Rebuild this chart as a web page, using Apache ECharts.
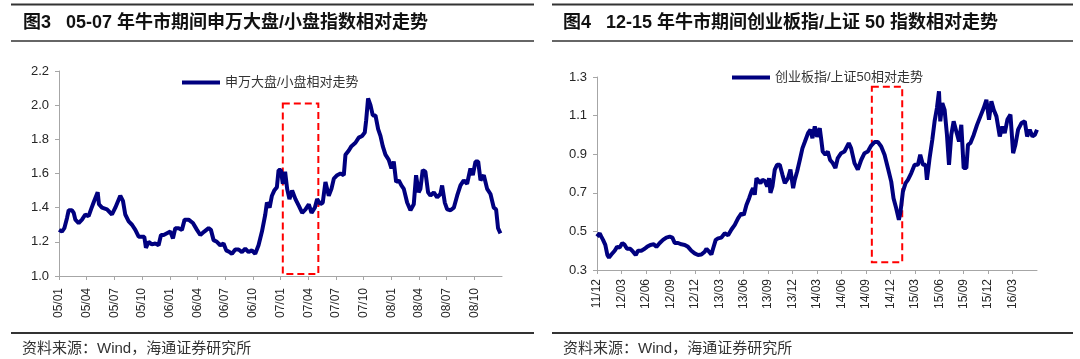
<!DOCTYPE html>
<html>
<head>
<meta charset="utf-8">
<script src="https://cdn.jsdelivr.net/npm/echarts@6/dist/echarts.min.js"></script>
<style>
html,body{margin:0;padding:0;background:#fff;}
#chart{width:1080px;height:359px;}
</style>
</head>
<body>
<div id="chart"></div>
<script>
// ---------- DATA ----------
// Left chart: months since 2005-01, Shenwan large-cap / small-cap relative index
const leftTickLabels = ['05/01','05/04','05/07','05/10','06/01','06/04','06/07','06/10','07/01','07/04','07/07','07/10','08/01','08/04','08/07','08/10'];
const leftMonths = [0,0.32,0.58,0.87,1.05,1.41,1.59,1.77,2.13,2.49,2.85,3.21,3.47,3.75,4.04,4.19,4.33,4.66,5.2,5.74,6.1,6.64,6.93,7.18,7.55,7.91,8.27,8.63,8.99,9.24,9.42,9.71,10.07,10.43,10.79,11.05,11.34,11.7,12.06,12.35,12.6,12.96,13.32,13.61,14.04,14.51,14.95,15.31,15.74,16.21,16.46,16.75,17.11,17.47,17.83,18.12,18.48,18.74,19.1,19.46,19.82,20.18,20.54,20.9,21.26,21.62,21.99,22.35,22.53,22.82,23.07,23.32,23.61,23.79,24.04,24.25,24.5,24.72,24.97,25.26,25.62,25.99,26.35,26.71,27.07,27.36,27.72,27.97,28.33,28.58,28.87,29.23,29.52,29.78,30.14,30.5,30.86,31.04,31.4,31.69,32.12,32.48,32.84,33.13,33.28,33.49,33.75,34.0,34.29,34.58,34.83,35.08,35.37,35.73,36.02,36.27,36.53,36.82,37.1,37.36,37.72,38.08,38.44,38.69,38.97,39.16,39.41,39.7,39.99,40.25,40.61,40.97,41.33,41.51,41.8,42.06,42.42,42.78,43.14,43.5,43.86,44.22,44.58,44.84,45.13,45.42,45.67,46.03,46.39,46.75,47.11,47.36,47.57,47.83];
const leftValues = [1.27,1.26,1.28,1.34,1.385,1.385,1.37,1.33,1.31,1.33,1.36,1.35,1.39,1.43,1.47,1.49,1.42,1.40,1.39,1.36,1.40,1.47,1.44,1.36,1.32,1.30,1.27,1.23,1.23,1.23,1.165,1.20,1.185,1.19,1.18,1.24,1.24,1.25,1.26,1.22,1.28,1.28,1.27,1.33,1.33,1.31,1.27,1.24,1.26,1.28,1.27,1.21,1.20,1.18,1.19,1.15,1.14,1.13,1.155,1.155,1.14,1.16,1.14,1.15,1.13,1.18,1.26,1.36,1.43,1.40,1.47,1.50,1.52,1.62,1.62,1.54,1.61,1.51,1.45,1.50,1.45,1.41,1.37,1.39,1.42,1.37,1.40,1.45,1.42,1.43,1.55,1.47,1.51,1.57,1.59,1.60,1.59,1.71,1.735,1.76,1.78,1.81,1.82,1.84,1.91,2.04,2.00,1.94,1.94,1.86,1.82,1.76,1.71,1.68,1.63,1.67,1.55,1.56,1.53,1.51,1.43,1.385,1.42,1.59,1.49,1.51,1.62,1.61,1.49,1.47,1.49,1.46,1.48,1.53,1.43,1.39,1.385,1.40,1.47,1.53,1.56,1.54,1.63,1.59,1.67,1.67,1.56,1.59,1.51,1.48,1.40,1.39,1.28,1.25];
const leftBox = [[24.25, 2.01], [28.1, 1.012]];

// Right chart: months since 2011-12, ChiNext / SSE 50 relative index
const rightTickLabels = ['11/12','12/03','12/06','12/09','12/12','13/03','13/06','13/09','13/12','14/03','14/06','14/09','14/12','15/03','15/06','15/09','15/12','16/03'];
const rightMonths = [0,0.33,0.53,0.74,1.02,1.27,1.47,1.76,2.17,2.46,2.78,3.11,3.4,3.68,4.09,4.42,4.75,5.03,5.44,5.85,6.14,6.55,6.96,7.29,7.7,8.1,8.51,8.92,9.25,9.54,9.95,10.36,10.77,11.17,11.58,11.99,12.4,12.81,13.22,13.43,13.75,14.04,14.24,14.57,14.86,15.27,15.68,16.09,16.5,16.91,17.31,17.72,18.01,18.34,18.67,18.95,19.16,19.36,19.57,19.77,20.06,20.3,20.59,20.88,21.12,21.29,21.53,21.82,22.1,22.43,22.76,23.05,23.45,23.74,24.07,24.27,24.56,24.89,25.21,25.5,25.91,26.2,26.44,26.73,27.02,27.34,27.5,27.7,28.03,28.32,28.61,28.93,29.26,29.55,29.96,30.37,30.9,31.19,31.6,32.01,32.42,32.83,33.24,33.65,34.06,34.47,34.88,35.29,35.7,36.11,36.39,36.72,37.05,37.25,37.54,37.87,38.16,38.57,38.98,39.39,39.67,40.0,40.33,40.49,40.82,41.15,41.43,41.72,41.97,42.13,42.38,42.66,42.95,43.2,43.48,43.77,44.1,44.43,44.71,45.0,45.33,45.53,45.82,46.23,46.64,47.05,47.46,47.79,48.11,48.4,48.69,49.02,49.43,49.75,50.04,50.37,50.74,51.07,51.35,51.68,52.09,52.5,52.79,53.11,53.44,53.73,53.93,54.0];
const rightValues = [0.473,0.49,0.473,0.456,0.43,0.378,0.364,0.38,0.40,0.42,0.416,0.44,0.43,0.41,0.41,0.395,0.378,0.40,0.40,0.41,0.42,0.43,0.433,0.42,0.44,0.456,0.468,0.473,0.468,0.44,0.44,0.433,0.43,0.42,0.40,0.386,0.378,0.38,0.395,0.41,0.395,0.38,0.41,0.456,0.464,0.468,0.49,0.48,0.51,0.534,0.568,0.594,0.585,0.637,0.672,0.706,0.724,0.69,0.776,0.772,0.75,0.767,0.762,0.733,0.776,0.70,0.733,0.82,0.845,0.845,0.793,0.75,0.776,0.82,0.724,0.767,0.81,0.87,0.93,0.963,1.01,1.027,0.983,1.044,0.99,1.035,0.983,0.914,0.897,0.914,0.87,0.854,0.828,0.88,0.905,0.914,0.957,0.93,0.854,0.82,0.87,0.905,0.914,0.945,0.963,0.963,0.94,0.897,0.828,0.758,0.672,0.62,0.56,0.603,0.706,0.75,0.767,0.802,0.845,0.845,0.897,0.845,0.845,0.767,0.88,0.975,1.07,1.139,1.226,1.07,1.165,1.13,1.0,0.845,1.0,1.07,1.018,0.966,1.052,0.828,0.828,0.949,0.957,1.0,1.052,1.096,1.139,1.182,1.079,1.174,1.13,1.096,0.992,1.044,1.009,1.079,1.105,0.905,0.949,1.027,1.061,1.07,0.992,1.027,0.992,1.0,0.992,1.027];
const rightBox = [[33.73, 1.25], [37.46, 0.34]];

// ---------- CHART ----------
const SANS = '"Liberation Sans", Arial, "Noto Sans CJK SC", sans-serif';
const LINE = '#00007f';
const AXIS = '#a6a6a6';

function zip(xs, ys) { return xs.map((x, i) => [x, ys[i]]); }
function tickPositions(labels) { return labels.map((_, i) => i * 3); }

function xAxisFor(gridIndex, labels, max, margin) {
  const pos = tickPositions(labels);
  return {
    type: 'value', gridIndex, min: 0, max,
    axisLine: { show: true, lineStyle: { color: AXIS, width: 1 } },
    axisTick: { show: true, length: 4, customValues: pos, lineStyle: { color: AXIS } },
    splitLine: { show: false },
    axisLabel: {
      customValues: pos, rotate: 90, margin,
      color: '#262626', fontSize: 12, fontFamily: SANS,
      formatter: v => labels[Math.round(v / 3)] || ''
    }
  };
}
function yAxisFor(gridIndex, min, max) {
  return {
    type: 'value', gridIndex, min, max, interval: 0.2,
    axisLine: { show: true, lineStyle: { color: AXIS, width: 1 } },
    axisTick: { show: true, length: 4, lineStyle: { color: AXIS } },
    splitLine: { show: false },
    axisLabel: { color: '#262626', fontSize: 13, fontFamily: SANS, margin: 10,
      formatter: v => v.toFixed(1) }
  };
}
function boxArea(box) {
  return {
    silent: true,
    itemStyle: { color: 'rgba(0,0,0,0)', borderColor: '#ff0000', borderWidth: 2, borderType: [7, 4] },
    data: [[{ coord: box[0] }, { coord: box[1] }]]
  };
}

const chart = echarts.init(document.getElementById('chart'), null, { renderer: 'canvas' });
const option = {
  animation: false,
  backgroundColor: '#fff',
  grid: [
    { left: 59, top: 71, width: 443, height: 205 },
    { left: 597, top: 77, width: 440, height: 193 }
  ],
  xAxis: [
    xAxisFor(0, leftTickLabels, 48, 12),
    xAxisFor(1, rightTickLabels, 54, 9)
  ],
  yAxis: [
    yAxisFor(0, 1.0, 2.2),
    yAxisFor(1, 0.3, 1.3)
  ],
  legend: [
    { data: ['申万大盘/小盘相对走势'], left: 177, top: 71, icon: 'rect', itemWidth: 38, itemHeight: 4, itemGap: 4,
      textStyle: { color: '#333', fontSize: 13, fontFamily: SANS, padding: [0, 0, 0, 0] } },
    { data: ['创业板指/上证50相对走势'], left: 727, top: 66, icon: 'rect', itemWidth: 38, itemHeight: 4, itemGap: 4,
      textStyle: { color: '#333', fontSize: 13, fontFamily: SANS } }
  ],
  series: [
    { name: '申万大盘/小盘相对走势', type: 'line', xAxisIndex: 0, yAxisIndex: 0,
      data: zip(leftMonths, leftValues), symbol: 'none', color: LINE,
      lineStyle: { color: LINE, width: 4 }, markArea: boxArea(leftBox) },
    { name: '创业板指/上证50相对走势', type: 'line', xAxisIndex: 1, yAxisIndex: 1,
      data: zip(rightMonths, rightValues), symbol: 'none', color: LINE,
      lineStyle: { color: LINE, width: 4 }, markArea: boxArea(rightBox) }
  ],
  graphic: [
    { type: 'line', shape: { x1: 11, y1: 4.5, x2: 534, y2: 4.5 }, style: { stroke: '#333', lineWidth: 2 } },
    { type: 'line', shape: { x1: 11, y1: 41, x2: 534, y2: 41 }, style: { stroke: '#333', lineWidth: 1.5 } },
    { type: 'text', x: 23, y: 23, style: { text: '图3   05-07 年牛市期间申万大盘/小盘指数相对走势', fontSize: 18, fontWeight: 'bold', fill: '#111', fontFamily: SANS, verticalAlign: 'middle' } },
    { type: 'line', shape: { x1: 11, y1: 333, x2: 534, y2: 333 }, style: { stroke: '#333', lineWidth: 2 } },
    { type: 'text', x: 22, y: 349, style: { text: '资料来源：Wind，海通证券研究所', fontSize: 15, fill: '#333', fontFamily: SANS, verticalAlign: 'middle' } },

    { type: 'line', shape: { x1: 552, y1: 4.5, x2: 1073, y2: 4.5 }, style: { stroke: '#333', lineWidth: 2 } },
    { type: 'line', shape: { x1: 552, y1: 41, x2: 1073, y2: 41 }, style: { stroke: '#333', lineWidth: 1.5 } },
    { type: 'text', x: 563, y: 23, style: { text: '图4   12-15 年牛市期间创业板指/上证 50 指数相对走势', fontSize: 18, fontWeight: 'bold', fill: '#111', fontFamily: SANS, verticalAlign: 'middle' } },
    { type: 'line', shape: { x1: 552, y1: 333, x2: 1073, y2: 333 }, style: { stroke: '#333', lineWidth: 2 } },
    { type: 'text', x: 563, y: 349, style: { text: '资料来源：Wind，海通证券研究所', fontSize: 15, fill: '#333', fontFamily: SANS, verticalAlign: 'middle' } }
  ]
};
chart.setOption(option);
</script>
</body>
</html>
